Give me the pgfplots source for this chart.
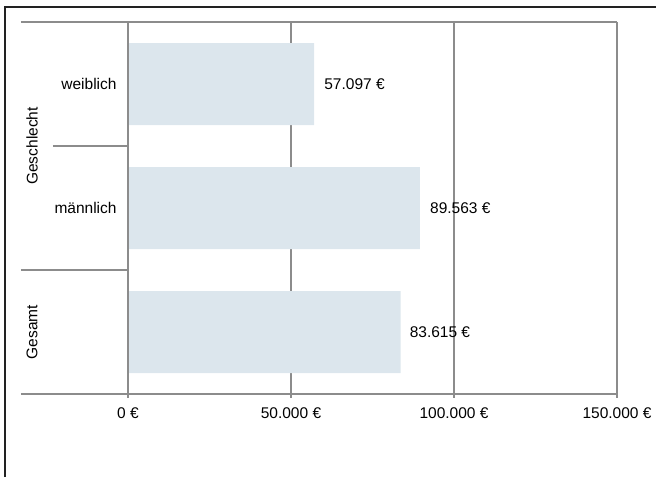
\documentclass[border=0pt]{standalone}
\usepackage{pgfplots}
\pgfplotsset{compat=1.18}
\usepackage{fontspec}
\setmainfont{Liberation Sans}
\definecolor{barc}{HTML}{DCE6ED}
\definecolor{gridc}{HTML}{8C8C8C}
\definecolor{framec}{HTML}{222222}
\begin{document}
\fontsize{15.5}{18}\selectfont
\begin{tikzpicture}[x=1pt,y=1pt]
\useasboundingbox (0,0) rectangle (656,477);
\draw[framec, line width=2pt] (5,0) -- (5,469.5) -- (656,469.5);
\begin{axis}[
  at={(128pt,83pt)}, anchor=south west,
  width=489pt, height=372pt, scale only axis,
  xbar, bar width=82pt,
  xmin=0, xmax=150000, ymin=-0.5, ymax=2.5, y dir=reverse,
  axis line style={draw=none},
  scaled x ticks=false,
  xtick={0,50000,100000,150000},
  xticklabels={0 €, 50.000 €, 100.000 €, 150.000 €},
  xticklabel style={anchor=north, inner sep=0pt, yshift=-13pt},
  ytick={0,1},
  yticklabels={weiblich, männlich},
  yticklabel style={anchor=east, inner sep=0pt, xshift=-7pt},
  ytick style={draw=none},
  xtick style={draw=none},
  xmajorgrids, grid style={gridc, line width=1.5pt},
  clip=false,
  font=\fontsize{15.5}{18}\selectfont,
]
\addplot[fill=barc, draw=none] coordinates {(57097,0) (89563,1) (83615,2)};
\draw[gridc, line width=1.5pt] (axis cs:0,-0.5) -- (axis cs:0,2.5);
\draw[gridc, line width=1.5pt] ([xshift=-107pt]axis cs:0,-0.5) -- (axis cs:150000,-0.5);
\draw[gridc, line width=1.5pt] ([xshift=-107pt]axis cs:0,2.5) -- (axis cs:150000,2.5);
\draw[gridc, line width=1.5pt] ([xshift=-75pt]axis cs:0,0.5) -- (axis cs:0,0.5);
\draw[gridc, line width=1.5pt] ([xshift=-107pt]axis cs:0,1.5) -- (axis cs:0,1.5);
\draw[gridc, line width=1.5pt] (axis cs:0,2.5) -- ([yshift=-4pt]axis cs:0,2.5);
\draw[gridc, line width=1.5pt] (axis cs:50000,2.5) -- ([yshift=-4pt]axis cs:50000,2.5);
\draw[gridc, line width=1.5pt] (axis cs:100000,2.5) -- ([yshift=-4pt]axis cs:100000,2.5);
\draw[gridc, line width=1.5pt] (axis cs:150000,2.5) -- ([yshift=-4pt]axis cs:150000,2.5);
\node[rotate=90] at ([xshift=-96pt]axis cs:0,0.5) {Geschlecht};
\node[rotate=90] at ([xshift=-96pt]axis cs:0,2) {Gesamt};
\node[anchor=west, inner sep=0pt, xshift=10pt] at (axis cs:57097,0) {57.097 €};
\node[anchor=west, inner sep=0pt, xshift=10pt] at (axis cs:89563,1) {89.563 €};
\node[anchor=west, inner sep=0pt, xshift=9pt] at (axis cs:83615,2) {83.615 €};
\end{axis}
\end{tikzpicture}
\end{document}
